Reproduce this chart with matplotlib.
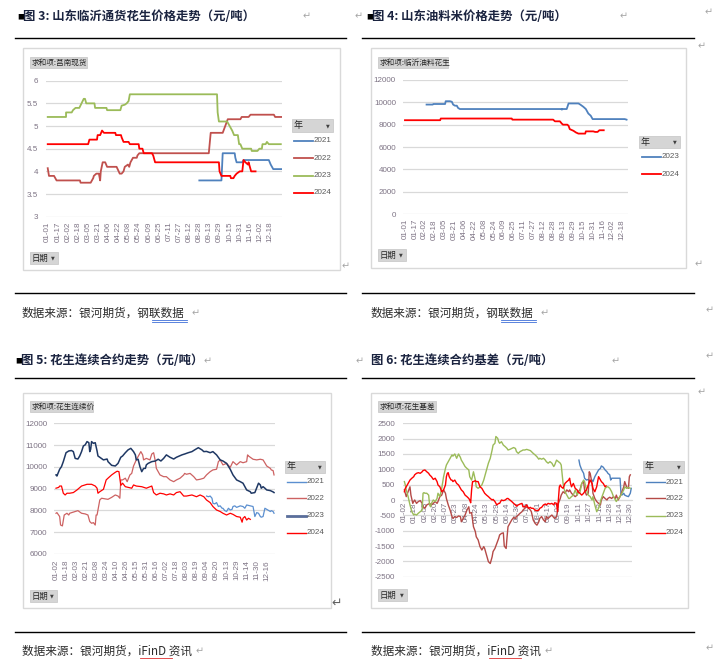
import matplotlib
matplotlib.use('Agg')
import matplotlib.pyplot as plt
from matplotlib.patches import Rectangle
from matplotlib.lines import Line2D

plt.rcParams['font.family'] = ['Noto Sans CJK SC', 'DejaVu Sans']
plt.rcParams['axes.unicode_minus'] = False

W, H = 720, 667
TICK = '#7D7384'
GRID = '#D9D9D9'
NUM_FONT = ['Liberation Sans', 'DejaVu Sans']

# ---------------- data ----------------
# chart 3: 莒南现货 (day of year, yuan/jin)
c3_labels = ['01-01', '01-17', '02-02', '02-18', '03-05', '03-21', '04-06', '04-22', '05-08', '05-24',
             '06-09', '06-25', '07-11', '07-27', '08-12', '08-28', '09-13', '09-29', '10-15', '10-31',
             '11-16', '12-02', '12-18']
c3_2021 = [(240, 3.8), (275, 3.8), (277, 4.4), (296, 4.4), (297, 4.3), (299, 4.2), (308, 4.2), (310, 4.25),
           (350, 4.25), (353, 4.15), (357, 4.05), (371, 4.05)]
c3_2022 = [(0, 4.07), (2, 3.9), (10, 3.9), (14, 3.8), (51, 3.8), (52, 3.75), (68, 3.75), (72, 3.85), (73, 3.9),
           (77, 3.95), (81, 3.95), (83, 3.8), (84, 4.0), (87, 4.2), (91, 4.2), (94, 4.1), (109, 4.1), (114, 3.95),
           (117, 3.95), (120, 4.0), (122, 4.1), (127, 4.15), (129, 4.1), (131, 4.2), (135, 4.3), (141, 4.3),
           (142, 4.35), (145, 4.4), (255, 4.4), (258, 4.85), (277, 4.85), (281, 5.0), (285, 5.15), (305, 5.15),
           (307, 5.2), (318, 5.2), (321, 5.25), (358, 5.25), (360, 5.2), (371, 5.2)]
c3_2023 = [(0, 5.2), (29, 5.2), (29, 5.3), (38, 5.3), (40, 5.35), (44, 5.4), (50, 5.4), (57, 5.6), (59, 5.6),
           (61, 5.5), (74, 5.5), (75, 5.4), (93, 5.4), (94, 5.35), (115, 5.35), (117, 5.45), (122, 5.47),
           (125, 5.5), (128, 5.55), (130, 5.7), (268, 5.7), (269, 5.3), (271, 5.1), (284, 5.1), (288, 5.0),
           (292, 4.9), (295, 4.8), (301, 4.8), (303, 4.6), (305, 4.6), (308, 4.5), (322, 4.5), (323, 4.45),
           (332, 4.45), (335, 4.5), (339, 4.5), (340, 4.6), (345, 4.6), (347, 4.65), (350, 4.6), (369, 4.6)]
c3_2024 = [(0, 4.6), (64, 4.6), (66, 4.7), (78, 4.7), (79, 4.8), (83, 4.8), (86, 4.9), (89, 4.85), (107, 4.85),
           (108, 4.8), (116, 4.8), (117, 4.75), (120, 4.65), (128, 4.65), (130, 4.6), (144, 4.6), (145, 4.5),
           (150, 4.5), (152, 4.4), (165, 4.4), (167, 4.35), (170, 4.2), (271, 4.2), (272, 4.0), (275, 3.9),
           (289, 3.9), (290, 3.85), (294, 3.85), (296, 3.9), (299, 3.95), (304, 4.0), (308, 4.0), (310, 4.25),
           (313, 4.2), (317, 4.15), (318, 4.2), (320, 4.1), (322, 4.0), (329, 4.0)]

# chart 4: 临沂油料花生
c4_2023 = [(35, 9800), (45, 9800), (46, 9850), (65, 9850), (66, 10100), (73, 10100), (76, 10050), (78, 9800),
           (81, 9700), (84, 9700), (86, 9500), (89, 9400), (254, 9400), (254, 9350), (256, 9400), (262, 9400),
           (265, 9900), (281, 9900), (284, 9800), (289, 9600), (293, 9400), (297, 9000), (301, 8800),
           (304, 8500), (356, 8500), (359, 8450)]
c4_2024 = [(0, 8400), (57, 8400), (58, 8550), (173, 8550), (174, 8450), (240, 8450), (243, 8300), (251, 8300),
           (254, 8100), (256, 8000), (263, 8000), (265, 7900), (267, 7600), (273, 7450), (277, 7300),
           (281, 7200), (292, 7200), (293, 7400), (305, 7400), (308, 7350), (312, 7350), (315, 7500),
           (322, 7500)]

# chart 5: 花生连续价 (trading day index, yuan/ton)
c5_labels = ['01-02', '01-18', '02-03', '02-21', '03-08', '03-24', '04-10', '04-26', '05-15', '05-31',
             '06-16', '07-02', '07-18', '08-03', '08-19', '09-04', '09-20', '10-13', '10-29', '11-14',
             '11-30', '12-16']
c5_2021 = [(165, 8660), (167, 8630), (169, 8660), (171, 8560), (172, 8330), (174, 8300), (176, 8360),
           (178, 8180), (180, 8210), (182, 8100), (183, 8100), (185, 7990), (187, 7950), (189, 8100),
           (191, 8020), (193, 8050), (194, 8180), (196, 8210), (198, 8140), (202, 8210), (205, 8180),
           (207, 8100), (209, 8250), (213, 8210), (216, 8180), (218, 7720), (220, 7900), (222, 7870),
           (224, 7720), (225, 7690), (227, 7720), (229, 8100), (231, 8050), (235, 7950), (236, 7990),
           (238, 7950), (239, 7870)]
c5_2022 = [(0, 7870), (1, 7900), (4, 7720), (5, 7330), (7, 7290), (9, 7790), (12, 7870), (14, 7790), (15, 7870),
           (21, 7950), (24, 7990), (28, 7870), (32, 7840), (35, 7790), (37, 7490), (39, 7410), (41, 7440),
           (43, 7330), (44, 7790), (45, 7790), (46, 8020), (48, 8480), (50, 8560), (54, 8530), (57, 8510),
           (61, 8600), (65, 8710), (68, 8660), (70, 8560), (71, 9400), (73, 9400), (76, 9480), (78, 9320),
           (81, 9630), (83, 9700), (85, 10040), (88, 10320), (91, 10550), (93, 10700), (95, 10550),
           (96, 10320), (99, 10390), (103, 10320), (105, 10590), (107, 10650), (109, 10240), (110, 9930),
           (114, 9630), (118, 9550), (121, 9550), (125, 9400), (129, 9320), (132, 9400), (136, 9480),
           (140, 9630), (141, 9700), (143, 9660), (147, 9700), (151, 9550), (154, 9400), (158, 9430),
           (162, 9480), (165, 9630), (169, 9780), (172, 9860), (176, 9890), (178, 10240), (180, 10320),
           (183, 10090), (187, 10160), (191, 9980), (194, 10240), (198, 10090), (202, 10240), (205, 10190),
           (209, 10240), (210, 10550), (211, 10500), (213, 10440), (216, 10350), (220, 10320), (224, 10350),
           (227, 10320), (231, 10040), (235, 9930), (236, 9860), (238, 9830), (239, 9630)]
c5_2023 = [(0, 9630), (1, 9580), (4, 9890), (6, 10010), (8, 10240), (11, 10650), (14, 10730), (17, 10750),
           (19, 10700), (21, 10390), (24, 10360), (26, 10500), (28, 10700), (30, 10960), (32, 11010),
           (34, 11160), (36, 11110), (37, 10700), (38, 10810), (39, 11160), (41, 11080), (43, 11110),
           (45, 10730), (46, 10500), (48, 10440), (52, 10320), (56, 10360), (57, 10240), (61, 10070),
           (65, 10040), (68, 10160), (71, 10440), (73, 10500), (76, 10650), (79, 10780), (82, 10850),
           (85, 10700), (87, 10550), (88, 10320), (90, 10350), (92, 10010), (94, 9780), (96, 9930), (98, 9930),
           (99, 10090), (101, 10160), (105, 10240), (109, 10270), (112, 10350), (115, 10270), (118, 10390),
           (121, 10550), (125, 10440), (129, 10360), (132, 10440), (138, 10550), (141, 10590), (145, 10650),
           (149, 10700), (152, 10780), (156, 10880), (160, 10780), (162, 10700), (165, 10710), (169, 10650),
           (172, 10700), (176, 10550), (180, 10320), (183, 10270), (187, 10160), (191, 9890), (194, 9630),
           (198, 9400), (202, 9320), (205, 9250), (209, 8940), (213, 8860), (214, 8790), (218, 8820),
           (222, 9250), (224, 9170), (225, 9020), (227, 9090), (229, 9020), (231, 8940), (235, 8910),
           (238, 8850), (239, 8820)]
c5_2024 = [(0, 9020), (3, 9060), (4, 9120), (6, 9120), (8, 8790), (10, 8710), (12, 8790), (15, 8790), (19, 8820),
           (23, 8940), (28, 9120), (34, 9200), (39, 9200), (43, 9120), (45, 9020), (46, 8790), (48, 8860),
           (52, 8970), (55, 9400), (57, 9480), (61, 9630), (65, 9750), (67, 9800), (69, 9780), (71, 9150),
           (73, 9250), (76, 9090), (79, 9060), (83, 9020), (85, 9170), (88, 9120), (94, 9090), (99, 9020),
           (105, 9120), (107, 8820), (110, 8710), (114, 8790), (118, 8760), (121, 8710), (125, 8760),
           (129, 8710), (132, 8820), (136, 8860), (140, 8660), (143, 8660), (149, 8710), (154, 8630),
           (158, 8710), (162, 8630), (165, 8480), (169, 8360), (172, 8180), (176, 8020), (180, 7950),
           (183, 7870), (187, 7790), (191, 7870), (194, 7820), (198, 7720), (202, 7690), (204, 7460),
           (205, 7640), (207, 7720), (209, 7560), (211, 7640), (213, 7590)]

# chart 6: 花生基差 (trading day index, yuan/ton)
c6_labels = ['01-02', '01-18', '02-03', '02-20', '03-07', '03-23', '04-08', '04-24', '05-13', '05-29',
             '06-14', '06-30', '07-16', '08-01', '08-17', '09-02', '09-19', '10-11', '10-27', '11-12',
             '11-28', '12-14', '12-30']
c6_2021 = [(187, 1300), (188, 1140), (190, 980), (192, 870), (193, 710), (195, 650), (197, 670), (199, 600),
           (201, 650), (202, 600), (204, 760), (206, 870), (208, 980), (210, 1030), (211, 1110), (213, 1070),
           (215, 980), (217, 920), (218, 870), (220, 820), (221, 650), (222, 710), (224, 710), (227, 710),
           (231, 710), (232, 220), (233, 160), (235, 220), (236, 160), (238, 130), (240, 110), (242, 220),
           (243, 380)]
c6_2022 = [(0, 330), (1, 220), (2, 110), (4, 270), (6, 430), (7, 160), (9, -110), (10, -50), (11, 0), (13, -110),
           (15, -50), (17, -20), (19, -110), (20, -220), (22, -270), (24, -160), (26, -130), (27, -110),
           (29, -160), (31, -110), (33, -50), (35, -110), (36, -50), (38, 110), (40, 160), (42, 330), (44, 220),
           (45, 50), (47, -160), (49, -330), (51, -540), (52, -600), (54, -540), (56, -570), (58, -520),
           (60, -540), (61, -710), (63, -600), (65, -490), (67, -330), (69, -220), (70, -430), (72, -410),
           (74, -870), (76, -1030), (77, -1200), (79, -1300), (81, -1520), (83, -1630), (85, -1520),
           (86, -1580), (88, -1790), (90, -2010), (92, -2070), (94, -1850), (95, -1680), (97, -1580),
           (99, -1410), (101, -1250), (102, -1140), (104, -1090), (106, -1070), (107, -1500), (109, -1580),
           (110, -1200), (111, -870), (113, -760), (115, -650), (117, -570), (119, -600), (120, -540),
           (122, -490), (124, -430), (126, -380), (127, -330), (129, -270), (131, -220), (133, -270),
           (135, -330), (136, -380), (138, -650), (140, -760), (142, -820), (144, -710), (145, -600),
           (147, -540), (149, -650), (151, -710), (152, -540), (154, -600), (156, -540), (158, -490),
           (160, -570), (161, -600), (163, -540), (164, -380), (165, -110), (167, 50), (168, 160), (170, 270),
           (172, 220), (174, 330), (176, 270), (177, 330), (179, 220), (181, 160), (183, 110), (185, 160),
           (186, 270), (188, 330), (190, 540), (192, 600), (193, 330), (195, 160), (197, 220), (198, 920),
           (199, 870), (201, 540), (202, 220), (204, 50), (206, -50), (208, -110), (210, -160), (211, 0),
           (213, 110), (215, 50), (217, 0), (218, 50), (220, 90), (222, 50), (224, 110), (226, 50), (227, 160),
           (229, 0), (231, 110), (233, 270), (235, 430), (236, 600), (238, 430), (240, 380), (241, 760),
           (242, 820)]
c6_2023 = [(0, 600), (1, 490), (2, 330), (4, 110), (6, -160), (8, -380), (10, -490), (11, -460), (13, -490),
           (15, -430), (17, -380), (19, -330), (20, 220), (21, 240), (22, 220), (24, 220), (26, 160), (27, -160),
           (28, -220), (29, -110), (31, 0), (33, -50), (35, 50), (36, 220), (38, 110), (40, 380), (42, 760),
           (44, 1030), (45, 1140), (47, 1250), (49, 1360), (51, 1470), (52, 1430), (54, 1500), (56, 1360),
           (58, 1500), (60, 1390), (61, 1300), (63, 1200), (65, 1090), (67, 1030), (69, 980), (70, 760),
           (72, 650), (74, 920), (76, 650), (77, 430), (79, 380), (81, 430), (83, 490), (85, 650), (86, 760),
           (88, 980), (90, 1200), (92, 1360), (94, 1630), (95, 1790), (97, 1850), (98, 2070), (100, 2010),
           (101, 1900), (102, 1850), (104, 1900), (106, 1790), (108, 1740), (110, 1680), (111, 1630),
           (113, 1650), (115, 1680), (117, 1710), (119, 1680), (120, 1580), (122, 1520), (124, 1580),
           (126, 1610), (127, 1630), (129, 1630), (131, 1650), (133, 1630), (135, 1610), (136, 1580),
           (138, 1520), (140, 1470), (142, 1410), (144, 1330), (145, 1360), (147, 1330), (149, 1360),
           (151, 1300), (152, 1250), (154, 1200), (156, 1250), (158, 1200), (160, 1090), (161, 1140),
           (163, 1300), (165, 1250), (167, 1200), (168, 1140), (170, 540), (171, 380), (172, 270), (174, 160),
           (176, 50), (177, 50), (179, 110), (181, 160), (183, 330), (185, 160), (186, 220), (188, 240),
           (190, 540), (192, 650), (193, 600), (195, 330), (197, 160), (199, 110), (201, 0), (202, 110),
           (204, -160), (206, -380), (208, -270), (210, -50), (211, 50), (213, 220), (215, 380), (217, 430),
           (218, 430), (220, 380), (222, 270), (224, 110), (226, 0), (227, -50), (229, 50), (231, 110),
           (233, 220), (235, 330), (236, 430), (238, 380), (240, 410), (242, 380)]
c6_2024 = [(0, 270), (1, 380), (2, 430), (4, 540), (6, 650), (8, 710), (10, 760), (11, 820), (13, 870), (15, 890),
           (17, 870), (19, 920), (20, 960), (22, 980), (24, 920), (26, 870), (27, 820), (29, 760), (31, 670),
           (33, 710), (35, 600), (36, 490), (38, 430), (40, 270), (42, 330), (44, 490), (45, 760), (46, 870),
           (47, 890), (48, 760), (50, 650), (51, 650), (52, 600), (54, 650), (56, 540), (58, 490), (60, 380),
           (61, 330), (63, 270), (65, 160), (67, 110), (69, 50), (70, 0), (71, -90), (72, 330), (73, 600),
           (74, 600), (76, 630), (77, 600), (79, 600), (81, 430), (83, 380), (85, 270), (86, 220), (88, 160),
           (90, 110), (92, 50), (94, 0), (95, 20), (97, -50), (99, -160), (101, -110), (102, -110), (104, 0),
           (106, -20), (108, 0), (110, 50), (111, 50), (113, 0), (115, -50), (117, -110), (119, -160),
           (120, -200), (122, -160), (124, -130), (126, -110), (127, -220), (129, -220), (131, -160),
           (133, -270), (135, -240), (136, -270), (138, -270), (140, -330), (142, -350), (144, -330),
           (145, -270), (147, -240), (149, -160), (151, -130), (152, -160), (154, -110), (156, -130),
           (158, -110), (160, -160), (161, -90), (163, -110), (164, -380), (166, 430), (167, 490), (168, 430),
           (170, 380), (172, 540), (174, 600), (176, 650), (177, 710), (178, 540), (179, 430), (181, 540),
           (183, 380), (185, 330), (186, 270), (188, 220), (190, 160), (192, 220), (193, 270), (195, 330),
           (197, 490), (199, 650), (201, 540), (202, 380), (204, 270), (206, 430), (208, 760), (210, 650),
           (211, 600), (213, 540), (215, 430), (216, 460)]

years = ['2021', '2022', '2023', '2024']

# ---------------- figure ----------------
fig = plt.figure(figsize=(7.2, 6.67), dpi=100)


def fx(x):
    return x / W


def fy(y):
    return 1 - y / H


def box(x0, y0, x1, y1, fc, ec, lw=0.8, z=0):
    fig.add_artist(Rectangle((fx(x0), fy(y1)), (x1 - x0) / W, (y1 - y0) / H, transform=fig.transFigure,
                             facecolor=fc, edgecolor=ec, linewidth=lw, zorder=z))


def hline(x0, x1, y, color='black', lw=1.0):
    fig.add_artist(Line2D([fx(x0), fx(x1)], [fy(y), fy(y)], transform=fig.transFigure, color=color, linewidth=lw))


def button(x0, y0, x1, y1, label, arrow=True, size=5.5):
    box(x0, y0, x1, y1, '#D5D5D5', '#C4C4C4', 0.5, z=2)
    fig.text(fx(x0 + 2), fy((y0 + y1) / 2), label, fontsize=size, va='center', ha='left', color='#262626', zorder=3)
    if arrow:
        fig.text(fx(x1 - 3), fy((y0 + y1) / 2), '▼', fontsize=3.5, va='center', ha='right', color='#404040',
                 family=['DejaVu Sans'], zorder=3)


def legend(x_line, ys, names, colors, widths):
    for y, n, c, w in zip(ys, names, colors, widths):
        fig.add_artist(Line2D([fx(x_line), fx(x_line + 19)], [fy(y), fy(y)], transform=fig.transFigure,
                              color=c, linewidth=w))
        fig.text(fx(x_line + 19.5), fy(y), n, fontsize=5.8, va='center', ha='left', color='#595959',
                 family=NUM_FONT)


def make_axes(x0, y0, x1, y1):
    ax = fig.add_axes([fx(x0), fy(y1), (x1 - x0) / W, (y1 - y0) / H])
    ax.set_facecolor('none')
    for s in ax.spines.values():
        s.set_visible(False)
    ax.grid(axis='y', color=GRID, linewidth=0.9)
    ax.set_axisbelow(True)
    return ax


def plot_series(ax, series, color, lw):
    ax.plot([p[0] for p in series], [p[1] for p in series], color=color, linewidth=lw, zorder=3)


def set_ticks(ax, xt, xl, yt, ypad, xpad):
    ax.set_xticks(xt)
    ax.set_xticklabels(xl, rotation=90, family=NUM_FONT)
    ax.set_yticks(yt)
    ax.set_yticklabels([('%g' % v) for v in yt], family=NUM_FONT)
    ax.tick_params(length=0, labelsize=5.8, colors=TICK)
    ax.tick_params(axis='y', pad=ypad)
    ax.tick_params(axis='x', pad=xpad)


def para_mark(x, y, size=7, color='#A6A6A6'):
    fig.text(fx(x), fy(y), '↵', fontsize=size, va='center', ha='left', color=color, family=['DejaVu Sans'])


# ---- document frame ----
TITLE_C = '#1B2440'
for tx, ty, txt, sq in [(17, 17, '图 3: 山东临沂通货花生价格走势（元/吨）', True),
                        (366, 17, '图 4: 山东油料米价格走势（元/吨）', True),
                        (15, 361, '图 5: 花生连续合约走势（元/吨）', True),
                        (371, 361, '图 6: 花生连续合约基差（元/吨）', False)]:
    if sq:
        fig.text(fx(tx), fy(ty), '■', fontsize=5, va='center', ha='left', color='black')
        tx += 6
    fig.text(fx(tx), fy(ty), txt, fontsize=8.9, fontweight='bold', va='center', ha='left', color=TITLE_C)

hline(15, 346, 38)
hline(362, 694, 38)
hline(15, 346, 293)
hline(362, 694, 293)
hline(15, 346, 378)
hline(362, 694, 378)
hline(15, 346, 632)
hline(362, 694, 632)

SRC_C = '#2B2B2B'
for sx in (22, 371):
    fig.text(fx(sx), fy(313), '数据来源：银河期货，钢联数据', fontsize=8.4, va='center', ha='left', color=SRC_C)
    hline(sx + 130, sx + 165, 320, color='#3F6FD8', lw=0.6)
    hline(sx + 130, sx + 165, 321.6, color='#3F6FD8', lw=0.6)
    fig.text(fx(sx), fy(651), '数据来源：银河期货，iFinD 资讯', fontsize=8.4, va='center', ha='left', color=SRC_C)
    hline(sx + 118, sx + 150, 658, color='#E03030', lw=0.6)

for px_, py_ in [(303, 16), (355, 16), (620, 16), (705, 12), (342, 266), (698, 46), (695, 264), (192, 313),
                 (541, 313), (706, 310), (204, 361), (356, 361), (612, 361), (706, 356), (698, 392),
                 (196, 651), (545, 651), (706, 648)]:
    para_mark(px_, py_)
para_mark(331, 603, size=9, color='#606060')

# ---- chart 3 ----
box(22.7, 48, 340, 270, 'white', '#D9D9D9', 1.0)
ax3 = make_axes(45.7, 80.7, 281.7, 216.7)
c3_colors = ['#4F81BD', '#C0504D', '#9BBB59', '#FF0000']
for s, c in zip([c3_2021, c3_2022, c3_2023, c3_2024], c3_colors):
    plot_series(ax3, s, c, 1.3)
ax3.set_xlim(-3.2, 370.4)
ax3.set_ylim(3, 6)
set_ticks(ax3, [i * 16 for i in range(len(c3_labels))], c3_labels, [3, 3.5, 4, 4.5, 5, 5.5, 6], 5.5, 3.6)
button(30, 57, 87, 68, '求和项:莒南现货', arrow=False)
button(292, 119, 333, 132, '年', size=6.5)
legend(294, [141, 158, 175.7, 193], years, c3_colors, [1.3] * 4)
button(30, 252, 58, 264, '日期', size=6)

# ---- chart 4 ----
box(371, 48, 686, 268, 'white', '#D9D9D9', 1.0)
ax4 = make_axes(403.3, 80, 628.3, 214)
plot_series(ax4, c4_2023, '#4F81BD', 1.3)
plot_series(ax4, c4_2024, '#FF0000', 1.3)
ax4.set_xlim(-2.7, 361.8)
ax4.set_ylim(0, 12000)
set_ticks(ax4, [i * 16 for i in range(len(c3_labels))], c3_labels, list(range(0, 12001, 2000)), 5.3, 3.6)
button(378, 57, 448, 68, '求和项:临沂油料花生', arrow=False)
button(639, 136, 680, 148, '年', size=6.5)
legend(642, [157, 174], ['2023', '2024'], ['#4F81BD', '#FF0000'], [1.3, 1.3])
button(378, 249, 406, 261, '日期', size=6)

# ---- chart 5 ----
box(22.7, 392.7, 330.7, 608, 'white', '#D9D9D9', 1.0)
ax5 = make_axes(54, 423.3, 275.3, 554)
c5_colors = ['#5B8FD0', '#CD6262', '#1F3864', '#FF0000']
c5_widths = [0.9, 0.9, 1.1, 0.9]
for s, c, w in zip([c5_2021, c5_2022, c5_2023, c5_2024], c5_colors, c5_widths):
    plot_series(ax5, s, c, w)
ax5.set_xlim(-2.2, 240.4)
ax5.set_ylim(6000, 12000)
set_ticks(ax5, [i * 11 for i in range(len(c5_labels))], c5_labels, list(range(6000, 12001, 1000)), 5.0, 4.3)
button(30, 401, 93, 412, '求和项:花生连续价', arrow=False)
button(285, 461, 325, 473, '年', size=6.5)
legend(287, [481.7, 498, 515.7, 532.7], years, ['#5B8FD0', '#CD6262', '#5A6E9A', '#FF0000'],
       [1.0, 1.0, 2.0, 1.0])
button(30, 590, 57, 602, '日期', size=6)

# ---- chart 6 ----
box(371, 393, 688, 608, 'white', '#D9D9D9', 1.0)
ax6 = make_axes(402.7, 423.3, 631.7, 576.7)
ax6.spines['bottom'].set_visible(True)
ax6.spines['bottom'].set_position(('data', 0))
ax6.spines['bottom'].set_color(GRID)
c6_colors = ['#4F81BD', '#B54A47', '#9BBB59', '#FF0000']
for s, c in zip([c6_2021, c6_2022, c6_2023, c6_2024], c6_colors):
    plot_series(ax6, s, c, 1.0)
ax6.set_xlim(-1.8, 243.5)
ax6.set_ylim(-2500, 2500)
set_ticks(ax6, [i * 11 for i in range(len(c6_labels))], c6_labels, list(range(-2500, 2501, 500)), 5.5, 1.5)
button(378, 401, 436, 412, '求和项:花生基差', arrow=False)
button(643, 461, 684, 473, '年', size=6.5)
legend(645.7, [482, 498, 515.7, 532.7], years, c6_colors, [1.0] * 4)
button(378, 589, 407, 601, '日期', size=6)

fig.savefig('out.png', dpi=100)
